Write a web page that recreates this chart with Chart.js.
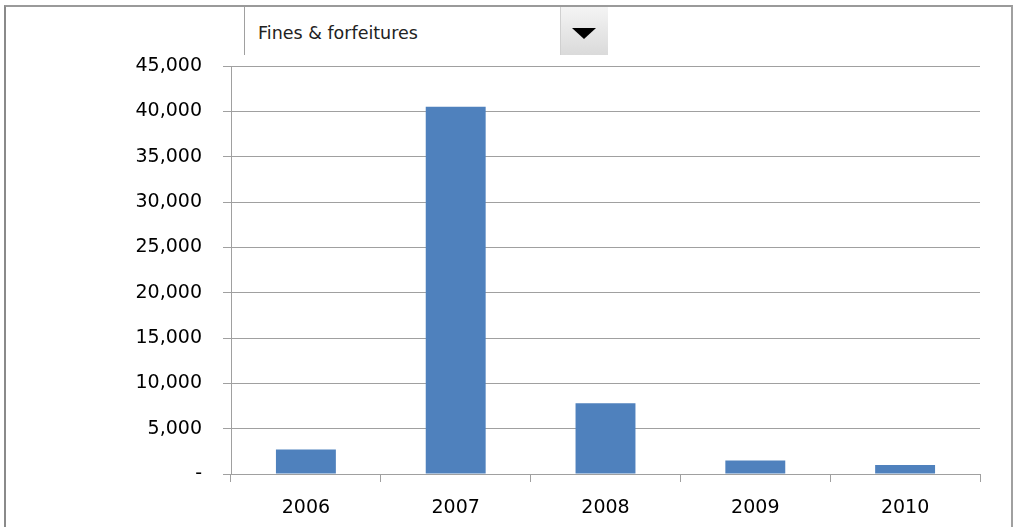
<!DOCTYPE html>
<html>
<head>
<meta charset="utf-8">
<script src="https://cdn.jsdelivr.net/npm/chart.js@4"></script>
<style>
  html, body { margin: 0; padding: 0; background: #fff; }
  #wrap { position: relative; width: 1020px; height: 527px; overflow: hidden; }
  #frame { position: absolute; left: 4px; top: 5px; width: 1005px; height: 540px;
           border: 2px solid #a0a0a0; border-bottom: none; border-left-color: #8a8a8a; border-top-color: #9a9a9a; }
  #pick { position: absolute; left: 244px; top: 7px; width: 363px; height: 48px;
          border-left: 1px solid #a0a0a0; background: #fff; z-index: 2; }
  #pick span { position: absolute; left: 13px; top: 16px; font: 17.5px "DejaVu Sans", sans-serif; color: #222; }
  #btn { position: absolute; right: 0; top: 0; width: 47px; height: 48px;
         background: linear-gradient(#f4f4f4, #dadada); border-left: 1px solid #d0d0d0; }
  #btn i { position: absolute; left: 11px; top: 21px; width: 0; height: 0;
           border-left: 12px solid transparent; border-right: 12px solid transparent; border-top: 11px solid #000; }
  #cv { position: absolute; left: 0; top: 0; }
</style>
</head>
<body>
<div id="wrap">
  <canvas id="cv" width="1020" height="527"></canvas>
  <div id="frame"></div>
  <div id="pick"><span>Fines &amp; forfeitures</span><div id="btn"><i></i></div></div>
</div>
<script>
var years = ['2006', '2007', '2008', '2009', '2010'];
var amounts = [2700, 40500, 7800, 1500, 1000];
var y_max = 45000;
var y_step = 5000;

var gray = '#a0a0a0';
var ctx = document.getElementById('cv').getContext('2d');
var myChart = new Chart(ctx, {
  type: 'bar',
  data: {
    labels: years,
    datasets: [{
      label: 'Fines & forfeitures',
      data: amounts,
      backgroundColor: '#4F81BD',
      borderWidth: 0,
      categoryPercentage: 1,
      barPercentage: 0.4
    }]
  },
  options: {
    responsive: false,
    animation: false,
    layout: { padding: { left: 0, right: 40, top: 66, bottom: 0 } },
    plugins: {
      legend: { display: false },
      tooltip: { enabled: false }
    },
    scales: {
      x: {
        afterFit: function (s) { s.height = 53; },
        grid: { offset: true, drawOnChartArea: false, drawTicks: true, tickLength: 8, color: gray },
        border: { color: gray },
        ticks: { color: '#000', padding: 15, font: { family: 'DejaVu Sans', size: 19 } }
      },
      y: {
        min: 0,
        max: y_max,
        afterFit: function (s) { s.width = 231; },
        grid: { color: gray, tickLength: 8 },
        border: { color: gray },
        ticks: {
          stepSize: y_step,
          color: '#000',
          padding: 21,
          font: { family: 'DejaVu Sans', size: 19 },
          callback: function (v) { return v === 0 ? '-' : v.toLocaleString('en-US'); }
        }
      }
    }
  }
});
</script>
</body>
</html>
